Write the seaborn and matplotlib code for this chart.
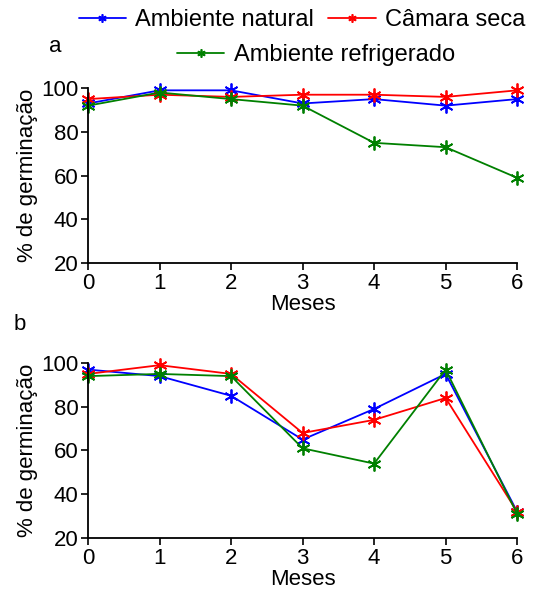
import matplotlib
matplotlib.use("Agg")
import matplotlib.pyplot as plt
import seaborn as sns
import pandas as pd
from matplotlib.lines import Line2D

meses = [0, 1, 2, 3, 4, 5, 6]
series = ["Ambiente natural", "Câmara seca", "Ambiente refrigerado"]
colors = ["#0000ff", "#ff0000", "#008000"]

# panel a
a_natural = [93, 99, 99, 93, 95, 92, 95]
a_seca = [95, 97, 96, 97, 97, 96, 99]
a_refrig = [92, 98, 95, 92, 75, 73, 59]

# panel b
b_natural = [97, 94, 85, 65, 79, 95, 32]
b_seca = [95, 99, 95, 68, 74, 84, 32]
b_refrig = [94, 95, 94, 61, 54, 97, 31]

yticks = [20, 40, 60, 80, 100]

sns.set_style("ticks")
plt.rcParams["font.family"] = ["Liberation Sans", "DejaVu Sans"]
for k in ["text.color", "axes.labelcolor", "xtick.color", "ytick.color"]:
    plt.rcParams[k] = "black"
FS = 16

fig = plt.figure(figsize=(5.37, 5.94), dpi=100)
ax_a = fig.add_axes([0.164, 0.557, 0.799, 0.2946])
ax_b = fig.add_axes([0.164, 0.0943, 0.799, 0.2946])

marker = (6, 2, 0)


def draw(ax, values):
    for name, vals, c in zip(series, values, colors):
        df = pd.DataFrame({"Meses": meses, "germ": vals})
        sns.lineplot(data=df, x="Meses", y="germ", ax=ax, color=c, lw=1.3,
                     marker=marker, markersize=10, markeredgewidth=1.3,
                     markeredgecolor=c, clip_on=False)
    ax.set_xlim(0, 6)
    ax.set_ylim(20, 100)
    ax.set_xticks(meses)
    ax.set_yticks(yticks)
    ax.set_xlabel("Meses", fontsize=FS, labelpad=0)
    ax.set_ylabel("% de germinação", fontsize=FS, labelpad=2)
    ax.tick_params(labelsize=FS, length=5, width=1.2, color="black", pad=2)
    for s in ["left", "bottom"]:
        ax.spines[s].set_linewidth(1.3)
        ax.spines[s].set_color("black")
    sns.despine(ax=ax)


draw(ax_a, [a_natural, a_seca, a_refrig])
draw(ax_b, [b_natural, b_seca, b_refrig])

fig.text(55 / 537, 1 - 47 / 594, "a", fontsize=FS, ha="center", va="center")
fig.text(20 / 537, 1 - 325 / 594, "b", fontsize=FS, ha="center", va="center")

handles = [Line2D([], [], color=c, lw=1.3, marker=marker, markersize=6,
                  markeredgewidth=1.2) for c in colors]
fig.legend(handles[:2], series[:2], loc="center", ncol=2, frameon=False,
           bbox_to_anchor=(302 / 537, 1 - 20 / 594), fontsize=17,
           handlelength=2.0, handletextpad=0.4, columnspacing=0.6,
           borderpad=0)
fig.legend(handles[2:], series[2:], loc="center", frameon=False,
           bbox_to_anchor=(316 / 537, 1 - 55 / 594), fontsize=17,
           handlelength=2.0, handletextpad=0.4, borderpad=0)

fig.savefig("out.png", dpi=100)
